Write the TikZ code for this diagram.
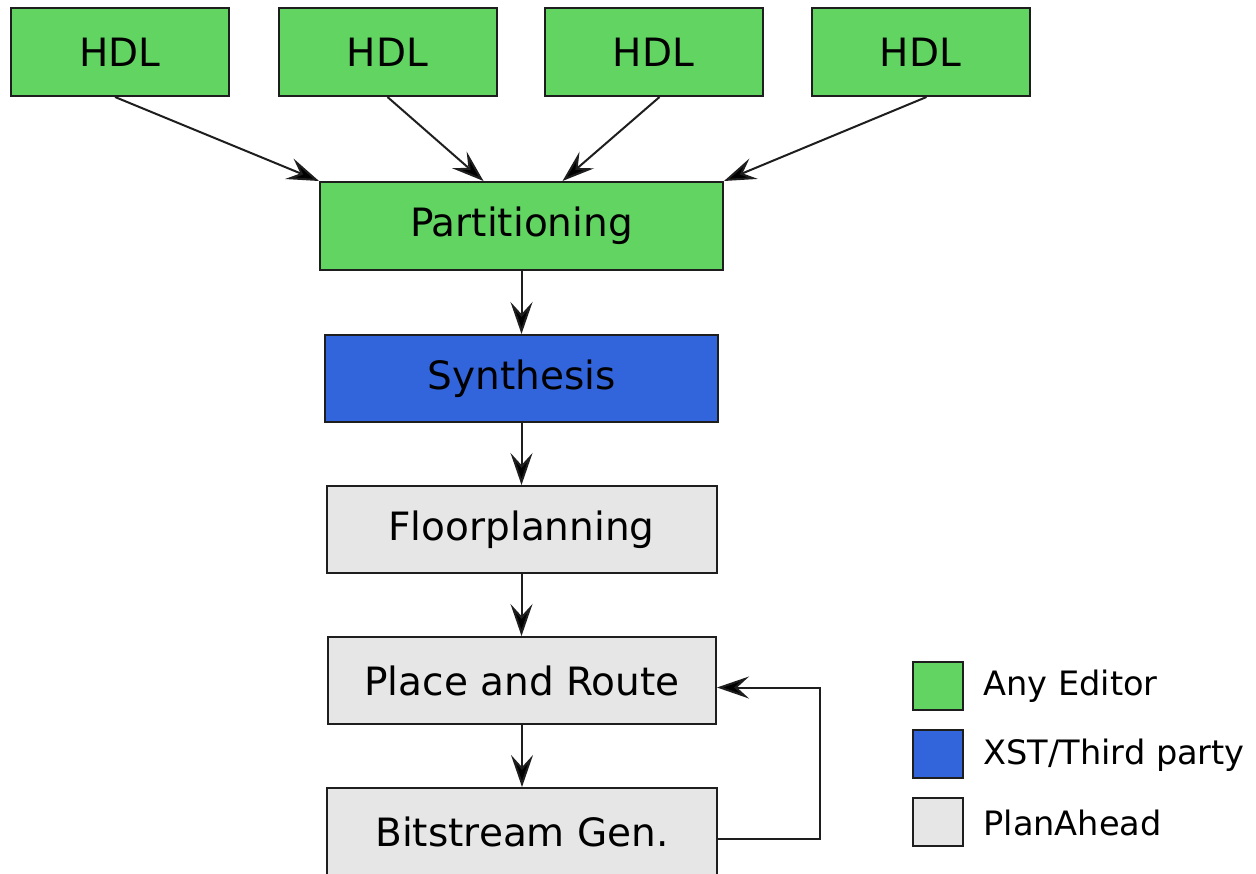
\documentclass[tikz,border=0pt]{standalone}
\usepackage{fontspec}
\setmainfont{DejaVu Sans}
\usetikzlibrary{arrows.meta}
\definecolor{editorgreen}{RGB}{98,212,98}
\definecolor{xstblue}{RGB}{50,100,220}
\definecolor{planahead}{RGB}{230,230,230}
\definecolor{edge}{RGB}{30,30,30}
\tikzset{
  box/.style={draw=edge, line width=1pt, inner sep=0pt, font=\fontsize{19.5}{23}\selectfont},
  hdl/.style={box, fill=editorgreen, minimum width=109pt, minimum height=44pt},
  stage/.style={box, minimum width=195pt, minimum height=43.5pt},
  flow/.style={draw=edge, line width=1pt, -{Stealth[length=16pt, width=11pt, inset=6pt, fill=black]}},
  swatch/.style={draw=edge, line width=1pt, minimum width=25pt, minimum height=24pt, inner sep=0pt},
  legendtext/.style={anchor=west, inner sep=0pt, font=\fontsize{16.8}{20}\selectfont}
}
\begin{document}
\begin{tikzpicture}[x=0.5pt, y=-0.5pt]
\useasboundingbox (0,0) rectangle (1256,873);
% source files
\node[hdl] (h1) at (120,52) {HDL};
\node[hdl] (h2) at (387.5,52) {HDL};
\node[hdl] (h3) at (653.5,52) {HDL};
\node[hdl] (h4) at (920.5,52) {HDL};
% tool chain
\node[box, fill=editorgreen, minimum width=201.5pt, minimum height=44pt] (part) at (521.5,226) {Partitioning};
\node[stage, fill=xstblue, minimum width=196.5pt] (syn) at (521.5,378.5) {Synthesis};
\node[stage, fill=planahead] (floor) at (521.5,529.5) {Floorplanning};
\node[stage, fill=planahead, minimum width=194pt] (pr) at (522,680.5) {Place and Route};
\node[stage, fill=planahead, minimum width=195pt] (bit) at (522,831.5) {Bitstream Gen.};
% merge of the sources
\draw[flow] ([xshift=-2.5pt]h1.south) -- (part.north west);
\draw[flow] (h2.south) -- ([xshift=-19pt]part.north);
\draw[flow] ([xshift=3pt]h3.south) -- ([xshift=20.5pt]part.north);
\draw[flow] ([xshift=3pt]h4.south) -- (part.north east);
% sequential steps
\draw[flow] (part.south) -- (part.south |- syn.north);
\draw[flow] (syn.south) -- (syn.south |- floor.north);
\draw[flow] (floor.south) -- (floor.south |- pr.north);
\draw[flow] (pr.south) -- (pr.south |- bit.north);
% iteration loop
\coordinate (loop) at (820,839);
\draw[flow] (bit.east |- loop) -- (loop) |- ([yshift=-3.5pt]pr.east);
% legend
\node[swatch, fill=editorgreen] (k1) at (938,686) {};
\node[swatch, fill=xstblue] (k2) at (938,753.5) {};
\node[swatch, fill=planahead] (k3) at (938,822) {};
\node[legendtext] (t1) at (983,686) {Any Editor};
\node[legendtext] (t2) at (983,755) {XST/Third party};
\node[legendtext] (t3) at (983,823) {PlanAhead};
\end{tikzpicture}
\end{document}
